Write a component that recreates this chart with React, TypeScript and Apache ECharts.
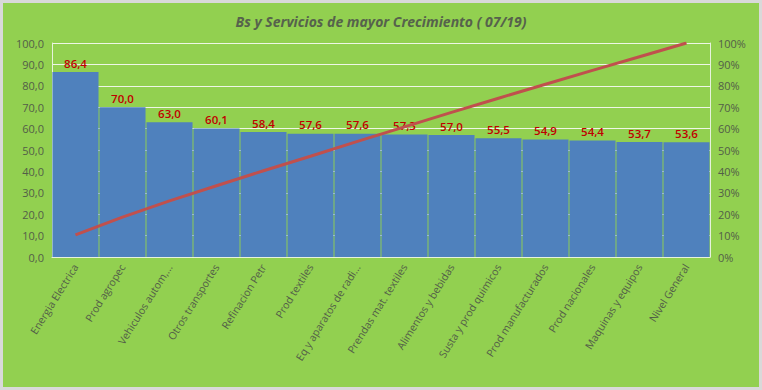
import React, { useEffect, useRef } from "react";
import * as echarts from "echarts";

const categories = [
  "Energia Electrica",
  "Prod agropec",
  "Vehiculos autom,...",
  "Otros transportes",
  "Refinacion Petr",
  "Prod textiles",
  "Eq y aparatos de radi...",
  "Prendas mat. textiles",
  "Alimentos y bebidas",
  "Susta y prod quimicos",
  "Prod manufacturados",
  "Prod nacionales",
  "Maquinas y equipos",
  "Nivel General",
];
const growthValues = [86.4, 70.0, 63.0, 60.1, 58.4, 57.6, 57.6, 57.3, 57.0, 55.5, 54.9, 54.4, 53.7, 53.6];
const cumulativePct = [10.3, 18.6, 26.2, 33.3, 40.3, 47.1, 54.0, 60.8, 67.6, 74.2, 80.7, 87.2, 93.6, 100];
const leftTicks = { min: 0, max: 100, interval: 10 };
const rightTicks = { min: 0, max: 100, interval: 10 };

const FONT = "'Open Sans', 'Liberation Sans', sans-serif";
const TXT = "#525e48";

export default function App() {
  const ref = useRef<HTMLDivElement>(null);
  useEffect(() => {
    document.body.style.margin = "0";
    const chart = echarts.init(ref.current!, null, { renderer: "svg" });
    chart.setOption({
      animation: false,
      backgroundColor: "#92D050",
      textStyle: { fontFamily: FONT },
      title: {
        text: "Bs y Servicios de mayor Crecimiento ( 07/19)",
        left: "center",
        top: 9,
        textStyle: {
          fontFamily: FONT,
          fontSize: 14,
          fontWeight: "bold",
          fontStyle: "italic",
          color: "#56624c",
        },
      },
      grid: { left: 52, right: 52, top: 43, bottom: 133, containLabel: false },
      xAxis: {
        type: "category",
        data: categories,
        axisLine: { show: true, lineStyle: { color: "#e6f2dc", width: 1 } },
        axisTick: { show: false },
        axisLabel: {
          rotate: 58,
          interval: 0,
          color: TXT,
          fontSize: 10.5,
          fontFamily: FONT,
          margin: 8,
        },
      },
      yAxis: [
        {
          type: "value",
          ...leftTicks,
          axisLine: { show: true, lineStyle: { color: "#e6f2dc" } },
          axisTick: { show: false },
          splitLine: { show: true, lineStyle: { color: "#eef6e6", width: 1 } },
          axisLabel: {
            color: TXT,
            fontSize: 11,
            fontFamily: FONT,
            margin: 8,
            formatter: (v: number) => v.toFixed(1).replace(".", ","),
          },
        },
        {
          type: "value",
          ...rightTicks,
          position: "right",
          axisLine: { show: true, lineStyle: { color: "#e6f2dc" } },
          axisTick: { show: false },
          splitLine: { show: false },
          axisLabel: {
            color: TXT,
            fontSize: 11,
            fontFamily: FONT,
            margin: 8,
            formatter: (v: number) => v + "%",
          },
        },
      ],
      series: [
        {
          type: "bar",
          data: growthValues,
          barCategoryGap: "2%",
          itemStyle: { color: "#4F81BD" },
          label: {
            show: true,
            position: "top",
            distance: 3,
            color: "#C00000",
            fontSize: 11.5,
            fontWeight: 600,
            fontFamily: FONT,
            formatter: (p: any) => Number(p.value).toFixed(1).replace(".", ","),
          },
        },
        {
          type: "line",
          yAxisIndex: 1,
          data: cumulativePct,
          showSymbol: false,
          symbol: "none",
          lineStyle: { color: "#C0504D", width: 3 },
          z: 5,
        },
      ],
    });
    return () => chart.dispose();
  }, []);
  return (
    <div style={{ position: "absolute", left: 0, top: 0, width: 762, height: 390 }}>
      <div ref={ref} style={{ position: "absolute", left: 0, top: 0, width: 762, height: 390 }} />
      <div
        style={{
          position: "absolute",
          left: 0,
          top: 0,
          width: 762,
          height: 390,
          boxSizing: "border-box",
          border: "3px solid #d9d9d9",
          pointerEvents: "none",
        }}
      />
    </div>
  );
}
